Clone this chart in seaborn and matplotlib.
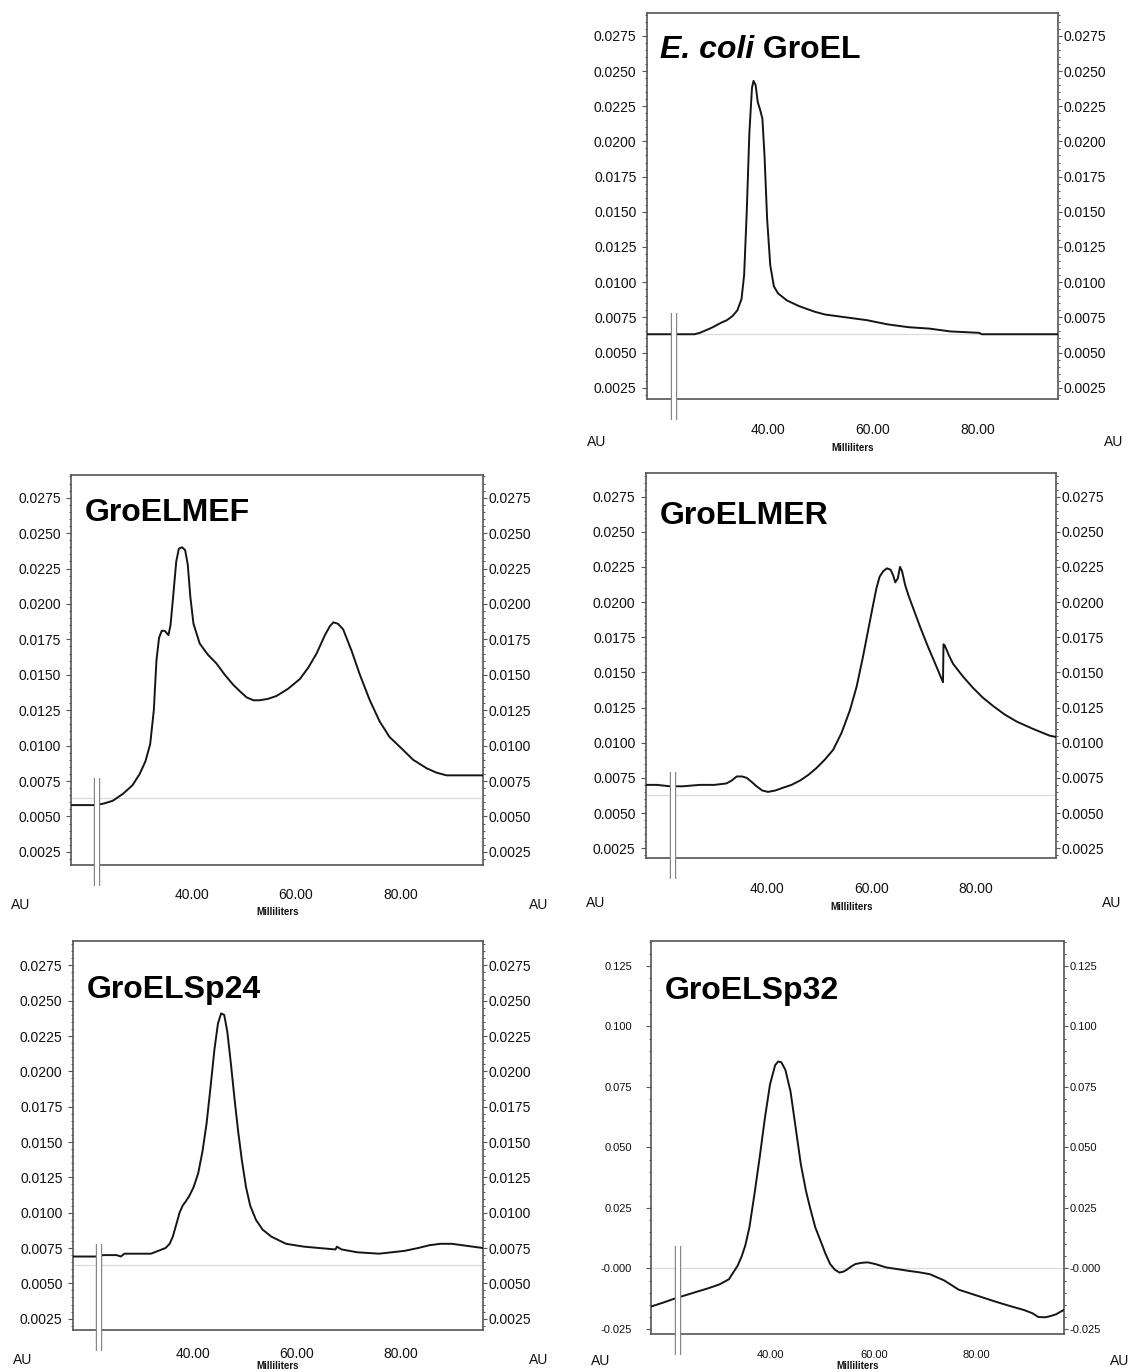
import numpy as np
import pandas as pd
import seaborn as sns
import matplotlib.pyplot as plt
from matplotlib import font_manager
from matplotlib.ticker import MultipleLocator, FuncFormatter
from matplotlib.transforms import ScaledTranslation, blended_transform_factory

# ===================== DATA =====================
ecoli_ml = [17.9, 27.0, 28.0, 29.3, 30.5, 32.0, 33.2, 34.3, 35.2, 36.0, 36.5, 37.0, 37.5, 38.0,
            38.3, 38.7, 39.1, 39.6, 40.0, 40.4, 40.9, 41.5, 42.2, 43.0, 44.7, 47.0, 50.0, 52.0,
            56.0, 60.0, 64.0, 68.0, 72.0, 76.0, 81.5, 82.0, 90.0, 96.6]
ecoli_au = [0.0063, 0.0063, 0.0064, 0.0066, 0.0068, 0.0071, 0.0073, 0.0076, 0.0080, 0.0088, 0.0105,
            0.0150, 0.0206, 0.0238, 0.0243, 0.0240, 0.0228, 0.0222, 0.0216, 0.0190, 0.0145, 0.0112,
            0.0097, 0.0092, 0.0087, 0.0083, 0.0079, 0.0077, 0.0075, 0.0073, 0.0070, 0.0068, 0.0067,
            0.0065, 0.0064, 0.0063, 0.0063, 0.0063]

mef_ml = [18.1, 22.6, 24.2, 26.0, 28.0, 29.8, 31.2, 32.3, 33.2, 33.9, 34.4, 34.9, 35.4, 36.0, 36.7,
          37.1, 37.6, 38.2, 38.7, 39.3, 39.9, 40.4, 40.9, 41.5, 42.7, 44.3, 45.9, 47.5, 49.1, 50.5,
          51.7, 53.0, 54.2, 55.8, 57.4, 59.6, 61.9, 63.5, 65.1, 66.7, 67.6, 68.3, 69.2, 70.2, 71.8,
          73.4, 75.3, 77.2, 79.1, 81.1, 83.6, 86.2, 88.0, 90.0, 92.6, 97.0]
mef_au = [0.0058, 0.0058, 0.0059, 0.0061, 0.0066, 0.0072, 0.0080, 0.0089, 0.0101, 0.0125, 0.0160,
          0.0176, 0.0181, 0.0181, 0.0178, 0.0185, 0.0205, 0.0230, 0.0239, 0.0240, 0.0238, 0.0228,
          0.0205, 0.0186, 0.0172, 0.0164, 0.0158, 0.0150, 0.0143, 0.0138, 0.0134, 0.0132, 0.0132,
          0.0133, 0.0135, 0.0140, 0.0147, 0.0155, 0.0165, 0.0178, 0.0184, 0.0187, 0.0186, 0.0182,
          0.0167, 0.0150, 0.0132, 0.0117, 0.0106, 0.0099, 0.0090, 0.0084, 0.0081, 0.0079, 0.0079,
          0.0079]

mer_ml = [17.9, 20.0, 22.5, 25.0, 28.2, 31.0, 33.3, 34.3, 35.3, 36.3, 37.2, 38.2, 39.1, 40.2, 41.3,
          42.7, 44.2, 45.8, 47.4, 49.0, 50.6, 52.2, 53.8, 55.4, 57.0, 58.3, 59.5, 60.5, 61.5, 62.1,
          62.7, 63.4, 64.1, 64.8, 65.3, 65.7, 66.2, 66.6, 67.0, 67.6, 68.3, 69.1, 70.5, 72.0, 73.5,
          74.85, 74.95, 75.2, 76.0, 76.8, 78.7, 80.6, 82.5, 84.5, 86.7, 89.0, 92.0, 95.3, 96.6]
mer_au = [0.0070, 0.0070, 0.0069, 0.0069, 0.0070, 0.0070, 0.0071, 0.0073, 0.0076, 0.0076, 0.0075,
          0.0072, 0.0069, 0.0066, 0.0065, 0.0066, 0.0068, 0.0070, 0.0073, 0.0077, 0.0082, 0.0088,
          0.0095, 0.0107, 0.0123, 0.0140, 0.0161, 0.0180, 0.0199, 0.0210, 0.0218, 0.0222, 0.0224,
          0.0223, 0.0219, 0.0214, 0.0217, 0.0225, 0.0222, 0.0212, 0.0204, 0.0196, 0.0182, 0.0168,
          0.0155, 0.0143, 0.0170, 0.0169, 0.0162, 0.0156, 0.0147, 0.0139, 0.0132, 0.0126, 0.0120,
          0.0115, 0.0110, 0.0105, 0.0104]

sp24_ml = [18.1, 22.4, 24.0, 25.5, 26.5, 27.3, 28.0, 30.0, 33.1, 34.5, 35.9, 36.7, 37.3, 38.0, 38.6,
           39.2, 39.8, 40.5, 41.3, 42.2, 43.0, 43.8, 44.6, 45.3, 46.0, 46.6, 47.2, 47.8, 48.5, 49.2,
           49.9, 50.6, 51.4, 52.2, 53.3, 54.6, 56.3, 59.1, 62.5, 65.5, 68.6, 68.9, 69.3, 69.8, 72.8,
           77.0, 81.9, 84.5, 86.7, 88.8, 91.0, 93.0, 97.0]
sp24_au = [0.0069, 0.0069, 0.0070, 0.0070, 0.0070, 0.0069, 0.0071, 0.0071, 0.0071, 0.0073, 0.0075,
           0.0078, 0.0083, 0.0092, 0.0100, 0.0105, 0.0108, 0.0112, 0.0118, 0.0128, 0.0143, 0.0163,
           0.0190, 0.0215, 0.0234, 0.0241, 0.0240, 0.0228, 0.0205, 0.0180, 0.0157, 0.0137, 0.0118,
           0.0105, 0.0095, 0.0088, 0.0083, 0.0078, 0.0076, 0.0075, 0.0074, 0.0076, 0.0075, 0.0074,
           0.0072, 0.0071, 0.0073, 0.0075, 0.0077, 0.0078, 0.0078, 0.0077, 0.0075]

sp32_ml = [17.8, 20.0, 22.7, 25.0, 27.0, 29.0, 31.2, 33.0, 34.7, 35.5, 36.2, 37.0, 38.0, 39.0, 40.0,
           41.0, 42.0, 42.6, 43.2, 44.0, 45.0, 46.0, 47.0, 48.0, 48.8, 49.8, 50.9, 51.8, 52.7, 53.6,
           54.5, 55.2, 55.9, 56.8, 57.6, 58.8, 60.0, 61.5, 63.6, 65.8, 67.9, 70.0, 72.1, 74.9, 77.7,
           81.2, 84.8, 87.6, 90.4, 92.0, 93.2, 94.5, 95.4, 96.6, 98.1]
sp32_au = [-0.0158, -0.0143, -0.0123, -0.0108, -0.0095, -0.0082, -0.0066, -0.0045, 0.0011, 0.0050,
           0.0095, 0.0170, 0.0310, 0.0460, 0.0620, 0.0760, 0.0840, 0.0855, 0.0852, 0.0820, 0.0730,
           0.0580, 0.0430, 0.0320, 0.0250, 0.0170, 0.0110, 0.0060, 0.0018, -0.0005, -0.0017,
           -0.0014, -0.0006, 0.0008, 0.0018, 0.0023, 0.0025, 0.0018, 0.0004, -0.0003, -0.0010,
           -0.0016, -0.0024, -0.0050, -0.0088, -0.0112, -0.0137, -0.0155, -0.0172, -0.0185,
           -0.0201, -0.0202, -0.0198, -0.0190, -0.0172]

x_major = [20, 40, 60, 80]
x_labels = ["", "40.00", "60.00", "80.00"]

# ===================== STYLE =====================
sns.set_style("white")
names = {f.name for f in font_manager.fontManager.ttflist}
plt.rcParams["font.family"] = ["Liberation Sans", "DejaVu Sans"]
narrow = "Liberation Sans Narrow" if "Liberation Sans Narrow" in names else "Liberation Sans"

W, H = 1129, 1372
fig = plt.figure(figsize=(W / 100, H / 100), dpi=100)

TRACE = "#151515"
SPINE = "#555555"
TXT = "#111111"

# panel: title, data, pixel box (l, r, t, b), xlim, ylim, baseline, title y-frac,
#        AU y, "Milliliters" y, x-label pad, small fonts
panels = [
    ("ecoli", ecoli_ml, ecoli_au, (647, 1058, 13.3, 399), (17.9, 96.6), (0.0017, 0.0291), 0.0063, 0.117, 442, 448, 7.5, False),
    ("GroELMEF", mef_ml, mef_au, (71.4, 483, 475, 864.6), (18.1, 97.0), (0.0016, 0.0291), 0.0063, 0.117, 905, 912, 7.5, False),
    ("GroELMER", mer_ml, mer_au, (646, 1056.4, 472.7, 858), (17.9, 96.6), (0.0018, 0.0292), 0.0063, 0.132, 903, 907, 7.5, False),
    ("GroELSp24", sp24_ml, sp24_au, (73, 483, 941.4, 1330), (18.1, 97.0), (0.0017, 0.0292), 0.0063, 0.145, 1360, 1366, 3.0, False),
    ("GroELSp32", sp32_ml, sp32_au, (650.7, 1063.6, 941, 1333.5), (17.8, 98.1), (-0.0269, 0.1353), 0.0, 0.148, 1361, 1366, 2.5, True),
]

for title, xs, ys, (l, r, t, b), xlim, ylim, base, ty, au_y, ml_y, xpad, small in panels:
    ax = fig.add_axes([l / W, 1 - b / H, (r - l) / W, (b - t) / H])
    axr = ax.twinx()
    df = pd.DataFrame({"ml": xs, "au": ys})

    ax.axhline(base, color="#dcdcdc", lw=0.9, zorder=1)
    sns.lineplot(data=df, x="ml", y="au", ax=ax, color=TRACE, lw=1.4,
                 estimator=None, sort=False, zorder=3)
    ax.set_xlim(*xlim)
    ax.set_ylim(*ylim)
    axr.set_ylim(*ylim)
    ax.set_xlabel("")
    ax.set_ylabel("")

    # injection marker (double bar)
    trans = blended_transform_factory(ax.transData, ax.transAxes)
    ax.plot([23.1, 23.1], [-0.055, 0.222], transform=trans, color="#858585", lw=4.6,
            clip_on=False, zorder=6, solid_capstyle="butt")
    ax.plot([23.1, 23.1], [-0.055, 0.222], transform=trans, color="white", lw=2.9,
            clip_on=False, zorder=7, solid_capstyle="butt")

    # x axis
    lsize = 8 if small else 10
    ax.set_xticks(x_major)
    ax.set_xticklabels(x_labels)
    ax.xaxis.set_minor_locator(MultipleLocator(4))
    ax.tick_params(axis="x", which="major", direction="out", length=9.5, width=0.9,
                   color=SPINE, pad=xpad, labelsize=lsize, labelcolor=TXT)
    ax.tick_params(axis="x", which="minor", direction="out", length=5, width=0.9, color=SPINE)
    for lab in ax.get_xticklabels():
        lab.set_transform(lab.get_transform() + ScaledTranslation(0.06, 0, fig.dpi_scale_trans))

    # y axes (left + right)
    if small:
        step, minor = 0.025, 0.005
        fmt = FuncFormatter(lambda v, p: "-0.000" if abs(v) < 1e-9 else f"{v:.3f}")
    else:
        step, minor = 0.0025, 0.0005
        fmt = FuncFormatter(lambda v, p: f"{v:.4f}")
    for a, side_pad, side_len in ((ax, 4.0, 3.5), (axr, 1.0, 3.0)):
        a.yaxis.set_major_locator(MultipleLocator(step))
        a.yaxis.set_minor_locator(MultipleLocator(minor))
        a.yaxis.set_major_formatter(fmt)
        a.tick_params(axis="y", which="major", direction="out", length=side_len, width=0.8,
                      color=SPINE, pad=side_pad + (6 if small and a is ax else 0),
                      labelsize=lsize, labelcolor=TXT)
        a.tick_params(axis="y", which="minor", direction="out", length=1.6, width=0.7, color=SPINE)
    ax.tick_params(axis="y", which="both", right=False)
    axr.tick_params(axis="y", which="both", left=False)

    for s in ax.spines.values():
        s.set_color(SPINE)
        s.set_linewidth(1.2)
    for s in axr.spines.values():
        s.set_visible(False)

    # title inside the box
    if title == "ecoli":
        t1 = ax.text(0.031, 1 - ty, "E. coli", transform=ax.transAxes, fontsize=23,
                     fontweight="bold", style="italic", va="baseline", ha="left",
                     color="black", zorder=8)
        ax.annotate(" GroEL", xy=(1, 0), xycoords=t1, fontsize=23, fontweight="bold",
                    va="bottom", ha="left", color="black")
    else:
        ax.text(0.033, 1 - ty, title, transform=ax.transAxes, fontsize=23,
                fontweight="bold", va="baseline", ha="left", color="black", zorder=8)

    # corner texts
    fig.text((l - 60) / W, 1 - au_y / H, "AU", fontsize=10, color=TXT, va="center", ha="left")
    fig.text((r + 46) / W, 1 - au_y / H, "AU", fontsize=10, color=TXT, va="center", ha="left")
    fig.text((l + r) / 2 / W, 1 - ml_y / H, "Milliliters", fontsize=7, fontweight="bold",
             family=narrow, color=TXT, va="center", ha="center")

fig.savefig("out.png", dpi=100)
